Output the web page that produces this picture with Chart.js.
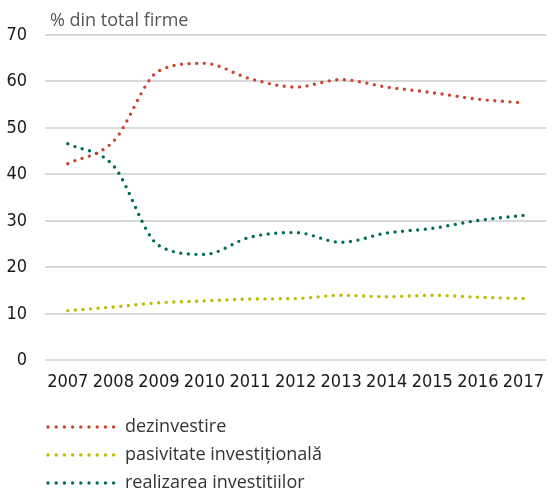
<!DOCTYPE html>
<html>
<head>
<meta charset="utf-8">
<script src="https://cdn.jsdelivr.net/npm/chart.js@4"></script>
<style>
  html, body { margin: 0; padding: 0; background: #fff; }
  #wrap { width: 555px; height: 492px; }
</style>
</head>
<body>
<div id="wrap"><canvas id="chart"></canvas></div>
<script>
const years = ["2007", "2008", "2009", "2010", "2011", "2012", "2013", "2014", "2015", "2016", "2017"];
const dezinvestire = [42.3, 47.1, 62.3, 63.9, 60.6, 58.8, 60.4, 58.8, 57.6, 56.2, 55.4];
const pasivitate = [10.7, 11.5, 12.4, 12.8, 13.2, 13.3, 14.0, 13.7, 14.0, 13.6, 13.3];
const realizarea = [46.6, 41.9, 24.7, 22.8, 26.5, 27.5, 25.4, 27.4, 28.4, 30.1, 31.2];
const seriesNames = ["dezinvestire", "pasivitate investițională", "realizarea investitiilor"];
const seriesColors = ["#c9472f", "#bcbc00", "#006d5b"];
const yTitle = "% din total firme";

const dots = [0, 7.6];
const axisFont = "'DejaVu Sans Condensed', 'Liberation Sans Narrow', sans-serif";

function makeSet(label, data, color) {
    return {
        label: label,
        data: data,
        borderColor: color,
        backgroundColor: color,
        borderWidth: 3.4,
        borderDash: dots,
        borderCapStyle: "round",
        pointRadius: 0,
        cubicInterpolationMode: "monotone",
        fill: false,
    };
}

// title above the plot and dotted legend below it
const extras = {
    id: "extras",
    afterDraw(chart) {
        const ctx = chart.ctx;
        const area = chart.chartArea;
        ctx.save();
        ctx.fillStyle = "#555";
        ctx.font = "18px 'Open Sans'";
        ctx.textBaseline = "alphabetic";
        ctx.textAlign = "left";
        ctx.fillText(yTitle, area.left + 5, area.top - 9);

        chart.data.datasets.forEach((ds, i) => {
            const y = 427 + i * 28;
            ctx.beginPath();
            ctx.strokeStyle = ds.borderColor;
            ctx.lineWidth = 3.4;
            ctx.lineCap = "round";
            ctx.setLineDash([0, 8.2]);
            ctx.moveTo(48, y);
            ctx.lineTo(114, y);
            ctx.stroke();
            ctx.setLineDash([]);
            ctx.fillStyle = "#333";
            ctx.font = "18px 'Open Sans'";
            ctx.textBaseline = "middle";
            ctx.fillText(ds.label, 125, y);
        });
        ctx.restore();
    },
};

new Chart(document.getElementById("chart"), {
    type: "line",
    data: {
        labels: years,
        datasets: [
            makeSet(seriesNames[0], dezinvestire, seriesColors[0]),
            makeSet(seriesNames[1], pasivitate, seriesColors[1]),
            makeSet(seriesNames[2], realizarea, seriesColors[2]),
        ],
    },
    options: {
        responsive: true,
        maintainAspectRatio: false,
        animation: false,
        layout: {
            padding: { top: 35, right: 0, bottom: 88, left: 0 },
        },
        plugins: {
            legend: { display: false },
            tooltip: { enabled: false },
        },
        scales: {
            x: {
                offset: true,
                grid: { display: false, drawTicks: false },
                border: { display: false },
                ticks: {
                    color: "#1a1a1a",
                    padding: 11,
                    maxRotation: 0,
                    minRotation: 0,
                    autoSkip: false,
                    font: { family: axisFont, size: 18 },
                },
            },
            y: {
                min: 0,
                max: 70,
                grid: { color: "#d9d9d9", lineWidth: 2, drawTicks: false },
                border: { display: false },
                afterFit(scale) {
                    scale.width = 45;
                },
                ticks: {
                    stepSize: 10,
                    color: "#1a1a1a",
                    padding: 18,
                    font: { family: axisFont, size: 18 },
                },
            },
        },
    },
    plugins: [extras],
});
</script>
</body>
</html>
